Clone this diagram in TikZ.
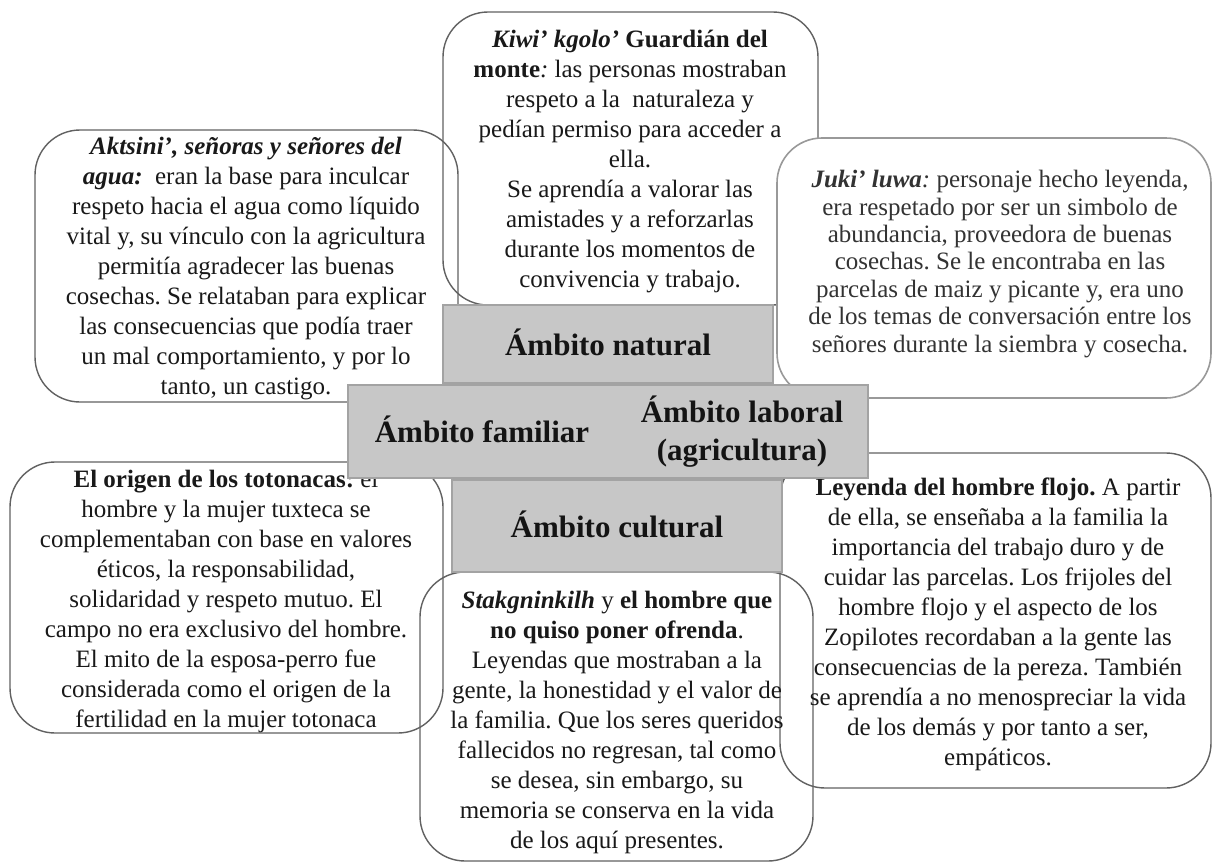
\documentclass[tikz,border=0pt]{standalone}
\usepackage{fontspec}
\setmainfont{Liberation Serif}
\frenchspacing
\begin{document}
\begin{tikzpicture}[x=1pt,y=-1pt,
  tbox/.style={draw=black!62, line width=1.4pt, rounded corners=45pt, inner sep=0pt},
  jbox/.style={draw=black!40, fill=white, line width=1.6pt, rounded corners=45pt, inner sep=0pt},
  body/.style={font=\fontsize{25}{30}\selectfont, align=center, inner sep=0pt, anchor=base, text=black!90},
  jbody/.style={font=\fontsize{25}{27.4}\selectfont, align=center, inner sep=0pt, anchor=base, text=black!80},
  gbox/.style={fill=black!22, draw=black!36, line width=1.5pt, inner sep=0pt},
  gtxt/.style={font=\fontsize{31}{38}\selectfont\bfseries, align=center, inner sep=0pt, anchor=base, text=black!92}]
\useasboundingbox[fill=white] (0,0) rectangle (1213,863);

% text boxes (outlines only)
\node[tbox, minimum width=423, minimum height=272] (aktbox) at (246.5,266) {};
\node[tbox, minimum width=375, minimum height=293] (kiwibox) at (630.5,158.5) {};
\node[tbox, minimum width=433, minimum height=271] (origbox) at (226.5,597.5) {};
\node[tbox, minimum width=393, minimum height=289] (stakbox) at (616.5,716.5) {};
\node[tbox, minimum width=431, minimum height=335] (leybox) at (995.5,620.5) {};

\node[body] (akttxt) at (246,394) {\textbf{\textit{Aktsini’, señoras y señores del}}\\
\textbf{\textit{agua:}}\ \ eran la base para inculcar\\
respeto hacia el agua como líquido\\
vital y, su vínculo con la agricultura\\
permitía agradecer las buenas\\
cosechas. Se relataban para explicar\\
las consecuencias que podía traer\\
un mal comportamiento, y por lo\\
tanto, un castigo.};

\node[body] (kiwitxt) at (630,287) {\textbf{\textit{Kiwi’ kgolo’}} \textbf{Guardián del}\\
\textbf{monte}\textit{:} las personas mostraban\\
respeto a la\ \ naturaleza y\\
pedían permiso para acceder a\\
ella.\\
Se aprendía a valorar las\\
amistades y a reforzarlas\\
durante los momentos de\\
convivencia y trabajo.};

\node[body] (origtxt) at (226,727) {\textbf{El origen de los totonacas:} el\\
hombre y la mujer tuxteca se\\
complementaban con base en valores\\
éticos, la responsabilidad,\\
solidaridad y respeto mutuo. El\\
campo no era exclusivo del hombre.\\
El mito de la esposa-perro fue\\
considerada como el origen de la\\
fertilidad en la mujer totonaca};

\node[body] (staktxt) at (617,848) {\textbf{\textit{Stakgninkilh}} y \textbf{el hombre que}\\
\textbf{no quiso poner ofrenda}.\\
Leyendas que mostraban a la\\
gente, la honestidad y el valor de\\
la familia. Que los seres queridos\\
fallecidos no regresan, tal como\\
se desea, sin embargo, su\\
memoria se conserva en la vida\\
de los aquí presentes.};

\node[body] (leytxt) at (998,765) {\textbf{Leyenda del hombre flojo.} A partir\\
de ella, se enseñaba a la familia la\\
importancia del trabajo duro y de\\
cuidar las parcelas. Los frijoles del\\
hombre flojo y el aspecto de los\\
Zopilotes recordaban a la gente las\\
consecuencias de la pereza. También\\
se aprendía a no menospreciar la vida\\
de los demás y por tanto a ser,\\
empáticos.};

% Juki box, filled, over the Kiwi box
\node[jbox, minimum width=434, minimum height=260] (jukibox) at (994,268) {};
\node[jbody] (jukitxt) at (1000,352) {\textbf{\textit{Juki’ luwa}}\textit{:} personaje hecho leyenda,\\
era respetado por ser un simbolo de\\
abundancia, proveedora de buenas\\
cosechas. Se le encontraba en las\\
parcelas de maiz y picante y, era uno\\
de los temas de conversación entre los\\
señores durante la siembra y cosecha.};

% central grey boxes
\node[gbox, minimum width=330, minimum height=78] (natbox) at (608,344) {};
\node[gbox, minimum width=520, minimum height=93] (bandbox) at (608,431.5) {};
\node[gbox, minimum width=330, minimum height=92] (culbox) at (617,526) {};

\node[gtxt] (nattxt) at (608,355) {Ámbito natural};
\node[gtxt] (famtxt) at (482,442) {Ámbito familiar};
\node[gtxt] (labtxt) at (742,460) {Ámbito laboral\\(agricultura)};
\node[gtxt] (cultxt) at (617,537) {Ámbito cultural};
\end{tikzpicture}
\end{document}
